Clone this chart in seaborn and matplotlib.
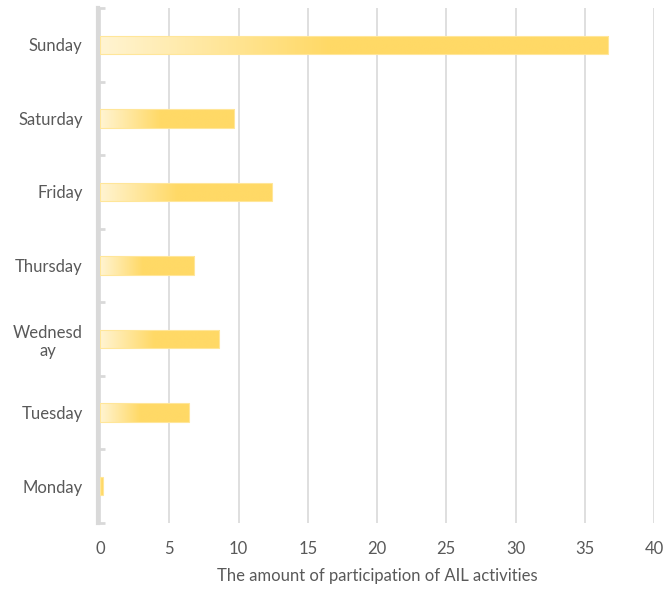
import numpy as np
import pandas as pd
import matplotlib
matplotlib.use("Agg")
import matplotlib.pyplot as plt
import seaborn as sns
from matplotlib.colors import LinearSegmentedColormap

days = ["Sunday", "Saturday", "Friday", "Thursday", "Wednesd\nay", "Tuesday", "Monday"]
values = [36.7, 9.7, 12.4, 6.8, 8.6, 6.4, 0.2]
x_ticks = [0, 5, 10, 15, 20, 25, 30, 35, 40]
x_label = "The amount of participation of AIL activities"

sns.set_theme(style="white")
plt.rcParams["font.family"] = ["Lato", "DejaVu Sans"]
text_color = "#595959"
grid_color = "#D9D9D9"

df = pd.DataFrame({"day": days, "value": values})

fig = plt.figure(figsize=(6.65, 5.89), dpi=100)
ax = fig.add_axes([100 / 665, 1 - 523 / 589, 554 / 665, 515 / 589])

sns.barplot(data=df, x="value", y="day", order=days, orient="h",
            width=0.25, color="#FFD966", ax=ax, zorder=3)

ax.set_xlim(0, 40)
ax.set_ylim(6.5, -0.5)
ax.set_xticks(x_ticks)
ax.set_xticklabels([str(t) for t in x_ticks])
ax.xaxis.grid(True, color=grid_color, linewidth=1.2, zorder=0)
ax.yaxis.grid(False)
ax.set_axisbelow(True)

# gradient fill
cmap = LinearSegmentedColormap.from_list(
    "g", [(0, "#FFF4D2"), (0.45, "#FFD966"), (1.0, "#FFD966")])
grad = np.linspace(0, 1, 256).reshape(1, -1)
for p in ax.patches:
    x0, y0 = p.get_x(), p.get_y()
    w, h = p.get_width(), p.get_height()
    if w <= 0:
        continue
    p.set_facecolor("none")
    p.set_edgecolor("#FFE699")
    p.set_linewidth(0.8)
    im = ax.imshow(grad, cmap=cmap, aspect="auto",
                   extent=[x0, x0 + w, y0 + h, y0], zorder=2.5,
                   interpolation="bilinear")
    im.set_clip_path(p)
ax.set_xlim(0, 40)
ax.set_ylim(6.5, -0.5)

for s in ["top", "right", "bottom"]:
    ax.spines[s].set_visible(False)
ax.spines["left"].set_color(grid_color)
ax.spines["left"].set_linewidth(3)
ax.spines["left"].set_position(("outward", 1.5))
ax.spines["left"].set_zorder(2)

ax.set_yticks(np.arange(-0.5, 7, 1), minor=True)
ax.tick_params(axis="y", which="minor", direction="in", length=5,
               width=2, color=grid_color, left=True)
ax.tick_params(axis="y", which="major", length=0, pad=11,
               labelsize=12, labelcolor=text_color)
ax.tick_params(axis="x", length=0, pad=13, labelsize=12,
               labelcolor=text_color)
for lbl in ax.get_yticklabels():
    lbl.set_multialignment("center")

ax.set_ylabel("")
ax.set_xlabel(x_label, color=text_color, fontsize=12, labelpad=8)

fig.savefig("out.png", dpi=100)
